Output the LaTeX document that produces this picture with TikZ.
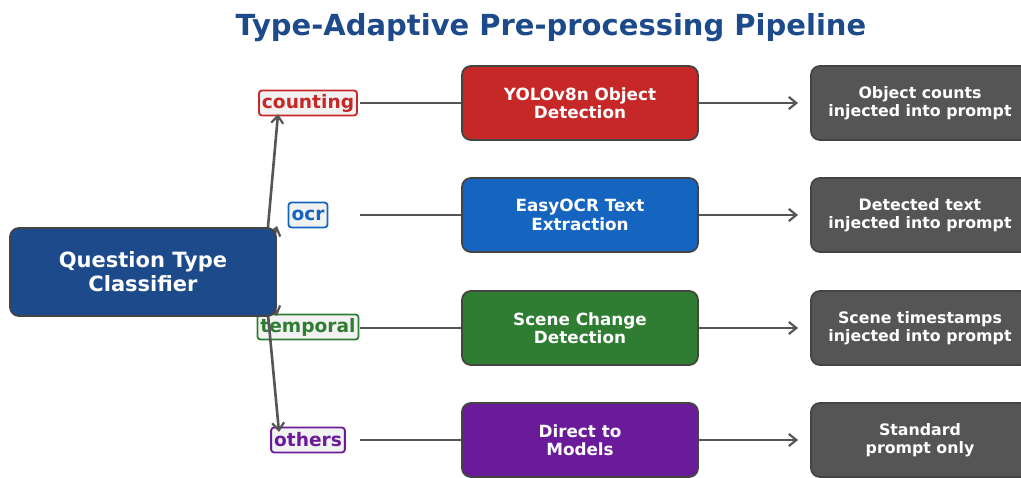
\documentclass[tikz,border=0pt]{standalone}
\usepackage{fontspec}
\setmainfont{DejaVu Sans}
\usetikzlibrary{arrows.meta, positioning}

\definecolor{titleblue}{HTML}{1C4A8A}
\definecolor{edgegray}{HTML}{444444}
\definecolor{linegray}{HTML}{555555}
\definecolor{tagfill}{HTML}{F2F2F2}
\definecolor{cntred}{HTML}{C62828}
\definecolor{ocrblue}{HTML}{1565C0}
\definecolor{tmpgreen}{HTML}{2E7D32}
\definecolor{othpurple}{HTML}{6A1B9A}
\definecolor{outgray}{HTML}{555555}

\begin{document}
\begin{tikzpicture}[
    x=1pt, y=-1pt,
    box/.style={rounded corners=9pt, draw=edgegray, line width=1.8pt, minimum width=236pt, minimum height=74pt, align=center, text=white, font=\bfseries\fontsize{16.8}{18.5}\selectfont},
    outbox/.style={box, fill=outgray, minimum width=218pt, font=\bfseries\fontsize{15.8}{18.5}\selectfont},
    tag/.style={rounded corners=3pt, draw, line width=1.8pt, fill=tagfill, minimum height=25pt, inner ysep=0pt, inner xsep=3pt, font=\bfseries\fontsize{18.6}{22}\selectfont},
    arrow/.style={-{Straight Barb[length=7.5pt, width=12pt, line width=2.2pt]}, line width=2.6pt, draw=linegray},
    link/.style={line width=2.6pt, draw=linegray}
]
\useasboundingbox (0,0) rectangle (1021,478);

\node (title) at (551,28) [text=titleblue, font=\bfseries\fontsize{29}{34}\selectfont] {Type-Adaptive Pre-processing Pipeline};

% question type tags
\node (counting) at (308,103) [tag, draw=cntred, text=cntred] {counting};
\node (ocr) at (308,215) [tag, draw=ocrblue, text=ocrblue] {ocr};
\node (temporal) at (308,327) [tag, draw=tmpgreen, text=tmpgreen] {temporal};
\node (others) at (308,440) [tag, draw=othpurple, text=othpurple] {others};

\coordinate (fork) at (264,272);
\coordinate (cnt-in) at (278,114);
\coordinate (ocr-in) at (277,226);
\coordinate (tmp-in) at (277,316);
\coordinate (oth-in) at (279,432);

\draw[arrow] (fork) -- (cnt-in);
\draw[arrow] (fork) -- (ocr-in);
\draw[arrow] (fork) -- (tmp-in);
\draw[arrow] (fork) -- (oth-in);

\node (classifier) at (143,272) [box, fill=titleblue, minimum width=266pt, minimum height=88pt, font=\bfseries\fontsize{21}{24}\selectfont] {Question Type\\Classifier};

% processing steps
\node (yolo) at (580,103) [box, fill=cntred] {YOLOv8n Object\\Detection};
\node (easyocr) at (580,215) [box, fill=ocrblue] {EasyOCR Text\\Extraction};
\node (scene) at (580,328) [box, fill=tmpgreen] {Scene Change\\Detection};
\node (direct) at (580,440) [box, fill=othpurple] {Direct to\\Models};

\coordinate (cnt-out) at (360,103);
\coordinate (ocr-out) at (360,215);
\coordinate (tmp-out) at (360,328);
\coordinate (oth-out) at (360,440);

\draw[link] (cnt-out) -- (yolo);
\draw[link] (ocr-out) -- (easyocr);
\draw[link] (tmp-out) -- (scene);
\draw[link] (oth-out) -- (direct);

% what goes into the prompt
\node (counts) at (920,103) [outbox] {Object counts\\injected into prompt};
\node (text) at (920,215) [outbox] {Detected text\\injected into prompt};
\node (stamps) at (920,328) [outbox] {Scene timestamps\\injected into prompt};
\node (plain) at (920,440) [outbox] {Standard\\prompt only};

\draw[arrow, shorten >=12pt] (yolo) -- (counts);
\draw[arrow, shorten >=12pt] (easyocr) -- (text);
\draw[arrow, shorten >=12pt] (scene) -- (stamps);
\draw[arrow, shorten >=12pt] (direct) -- (plain);
\end{tikzpicture}
\end{document}
